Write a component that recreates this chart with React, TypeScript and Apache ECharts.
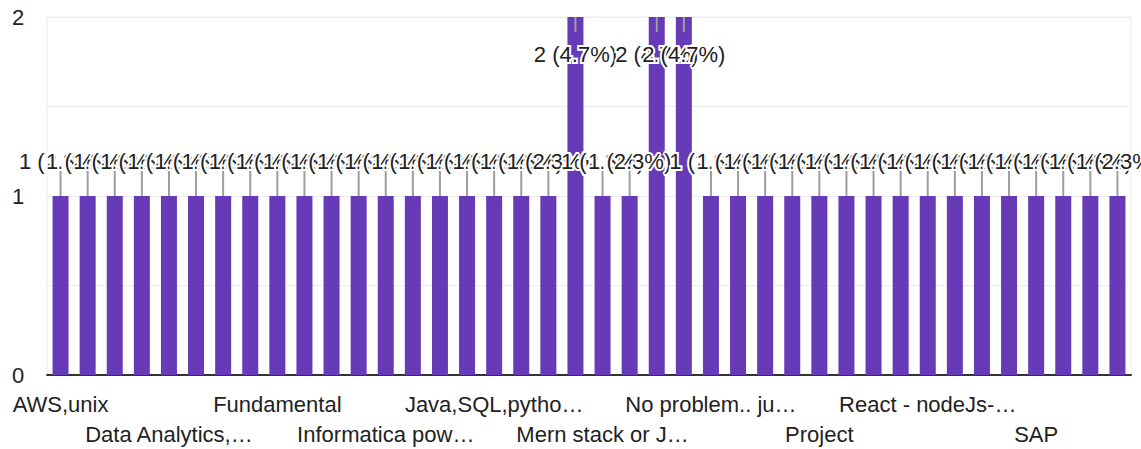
import React, { useEffect, useRef } from "react";
import * as echarts from "echarts";

const categories: string[] = [
  "AWS,unix", "Azure", "Big Data", "C++",
  "Data Analytics,…", "Data Science", "DevOps", "Excel",
  "Fundamental", "Full Stack", "Git", "HTML, CSS",
  "Informatica pow…", "Interview skills", "Java", "Java full stack",
  "Java,SQL,pytho…", "JavaScript", "Linux", "Machine learning",
  "Mern stack or J…", "Networking", "Nil", "No",
  "No problem.. ju…", "Nothing", "Oracle", "Power BI",
  "Project", "Python", "Python, SQL", "React",
  "React - nodeJs-…", "Real time projects", "Rest API", "SAP basics",
  "SAP", "Selenium", "Spring Boot", "Testing",
];

const counts: number[] = [
  1, 1, 1, 1, 1, 1, 1, 1, 1, 1,
  1, 1, 1, 1, 1, 1, 1, 1, 1, 2,
  1, 1, 2, 2, 1, 1, 1, 1, 1, 1,
  1, 1, 1, 1, 1, 1, 1, 1, 1, 1,
];

const yTicks: number[] = [0, 1, 2];

const FONT = "'Liberation Sans', Arial, sans-serif";
const BAR_COLOR = "#673ab7";

export default function App() {
  const ref = useRef<HTMLDivElement>(null);

  useEffect(() => {
    document.body.style.margin = "0";
    if (!ref.current) return;
    const chart = echarts.init(ref.current, undefined, { renderer: "svg" });
    const total = counts.reduce((a, b) => a + b, 0);

    const labelBase = {
      color: "#222",
      fontSize: 22,
      fontFamily: FONT,
      hideOverlap: false,
    };

    chart.setOption({
      animation: false,
      grid: {
        left: 47,
        right: 10,
        top: 17,
        bottom: 74,
        show: true,
        borderColor: "#ebebeb",
        borderWidth: 1,
      },
      xAxis: [
        {
          type: "category",
          data: categories,
          position: "bottom",
          axisTick: { show: false },
          axisLine: { lineStyle: { color: "#333", width: 2 } },
          axisLabel: {
            ...labelBase,
            margin: 18,
            interval: (idx: number) => idx % 8 === 0,
          },
        },
        {
          type: "category",
          data: categories,
          position: "bottom",
          axisTick: { show: false },
          axisLine: { show: false },
          axisLabel: {
            ...labelBase,
            margin: 48,
            interval: (idx: number) => idx % 8 === 4,
          },
        },
      ],
      yAxis: {
        type: "value",
        min: 0,
        max: 2,
        interval: 0.5,
        axisLine: { show: false },
        axisTick: { show: false },
        splitLine: { lineStyle: { color: "#ebebeb", width: 1 } },
        axisLabel: {
          align: "left",
          margin: 35,
          color: "#222",
          fontSize: 22,
          fontFamily: FONT,
          formatter: (v: number) => (yTicks.indexOf(v) >= 0 ? String(v) : ""),
        },
      },
      series: [
        {
          type: "bar",
          xAxisIndex: 0,
          data: counts,
          barWidth: 16,
          itemStyle: { color: BAR_COLOR },
        },
        {
          type: "custom",
          xAxisIndex: 0,
          data: counts.map((v, i) => [i, v]),
          encode: { x: 0, y: 1 },
          z: 5,
          renderItem: (params: any, api: any) => {
            const idx = api.value(0);
            const v = api.value(1);
            const pt = api.coord([idx, v]);
            const topY = params.coordSys.y;
            const inside = pt[1] - 50 < topY;
            const stemEnd = inside ? pt[1] + 15 : pt[1] - 25;
            const textY = inside ? pt[1] + 37 : pt[1] - 35;
            const label = `${v} (${((v / total) * 100).toFixed(1)}%)`;
            return {
              type: "group",
              children: [
                {
                  type: "line",
                  shape: { x1: pt[0], y1: pt[1], x2: pt[0], y2: stemEnd },
                  style: { stroke: "#9e9e9e", lineWidth: 2 },
                },
                {
                  type: "text",
                  x: pt[0],
                  y: textY,
                  style: {
                    text: label,
                    fill: "#222",
                    stroke: "#fff",
                    lineWidth: 4,
                    fontSize: 22,
                    fontFamily: FONT,
                    align: "center",
                    verticalAlign: "middle",
                  },
                },
              ],
            };
          },
        },
      ],
    });

    return () => chart.dispose();
  }, []);

  return (
    <div
      ref={ref}
      style={{ position: "absolute", left: 0, top: 0, width: 1141, height: 449 }}
    />
  );
}
